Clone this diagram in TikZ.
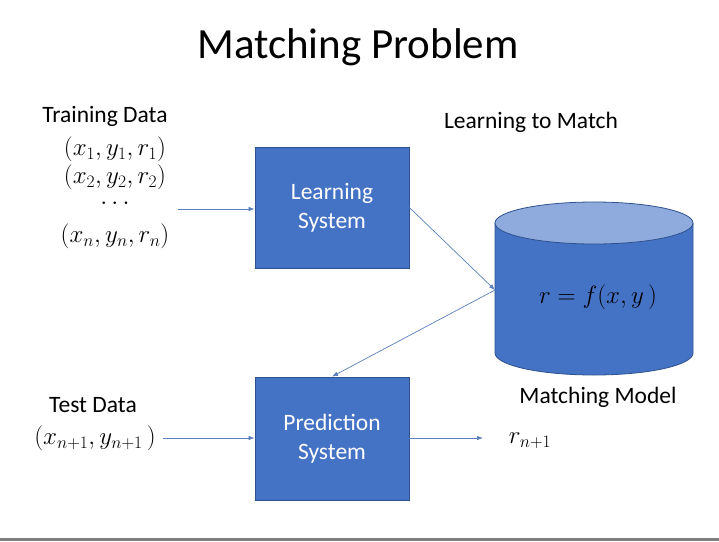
\RequirePackage{fix-cm}
\documentclass[tikz,border=0pt]{standalone}
\usepackage{fontspec}
\setmainfont{Carlito}
\usetikzlibrary{arrows.meta}
\definecolor{boxblue}{HTML}{4472C4}
\definecolor{boxedge}{HTML}{2F528F}
\definecolor{toplight}{HTML}{8FAADC}
\definecolor{arrowc}{HTML}{5B80BE}
\definecolor{stripgray}{HTML}{7F7F7F}
\begin{document}
\begin{tikzpicture}[x=1pt,y=-1pt,
  lbl/.style={font=\fontsize{23.5}{28}\selectfont, text=black, inner sep=0pt},
  mth/.style={font=\fontsize{25}{28}\selectfont, text=black, inner sep=0pt},
  sysbox/.style={draw=boxedge, line width=0.8pt, fill=boxblue, text=white,
    minimum width=154pt, align=center, inner sep=0pt,
    font=\fontsize{23.5}{29}\selectfont},
  arr/.style={draw=arrowc, line width=0.7pt, -{Latex[length=6pt,width=4.5pt]}}]
\useasboundingbox (0,0) rectangle (719,541);
\fill[white] (0,0) rectangle (719,541);
\fill[stripgray] (0,538) rectangle (719,541);

\node[font=\fontsize{43}{50}\selectfont, inner sep=0pt] (title) at (358,47) {Matching Problem};

\node[lbl] (train) at (105,116) {Training Data};
\node[mth, align=center, anchor=north] (tset) at (115,137)
  {$(x_1, y_1, r_1)$\\$(x_2, y_2, r_2)$\\[-2pt]$\cdots$\\[5pt]$(x_n, y_n, r_n)$};

\node[lbl] (ltm) at (531,122) {Learning to Match};

\node[sysbox, minimum height=121pt] (lsys) at (332,207.5) {Learning\\System};
\node[sysbox, minimum height=123pt] (psys) at (332,438.5) {Prediction\\System};

% cylinder
\fill[boxblue, draw=boxedge, line width=0.8pt] (495,223) -- (495,353)
  arc[start angle=180, end angle=360, x radius=99pt, y radius=22pt] -- (693,223) -- cycle;
\filldraw[fill=toplight, draw=boxedge, line width=0.8pt] (594,223) ellipse [x radius=99pt, y radius=21pt];
\node[mth] (model) at (598,297) {$r = f(x, y\,)$};
\coordinate (cylL) at (495,290);

\node[lbl] (mm) at (598,397) {Matching Model};

\node[lbl] (test) at (93,405) {Test Data};
\node[mth] (tx) at (95,438) {$(x_{n+1}, y_{n+1}\,)$};
\node[mth] (rout) at (530,441) {$r_{n+1}$};

\coordinate (tA) at (178,209);
\coordinate (tB) at (163,438);
\coordinate (rA) at (483,438);

\draw[arr] (tA) -- (lsys.west |- tA);
\draw[arr] (lsys.east) -- (cylL);
\draw[arr] (cylL) -- (psys.north);
\draw[arr] (tB) -- (psys.west |- tB);
\draw[arr] (psys.east |- rA) -- (rA);
\end{tikzpicture}
\end{document}
